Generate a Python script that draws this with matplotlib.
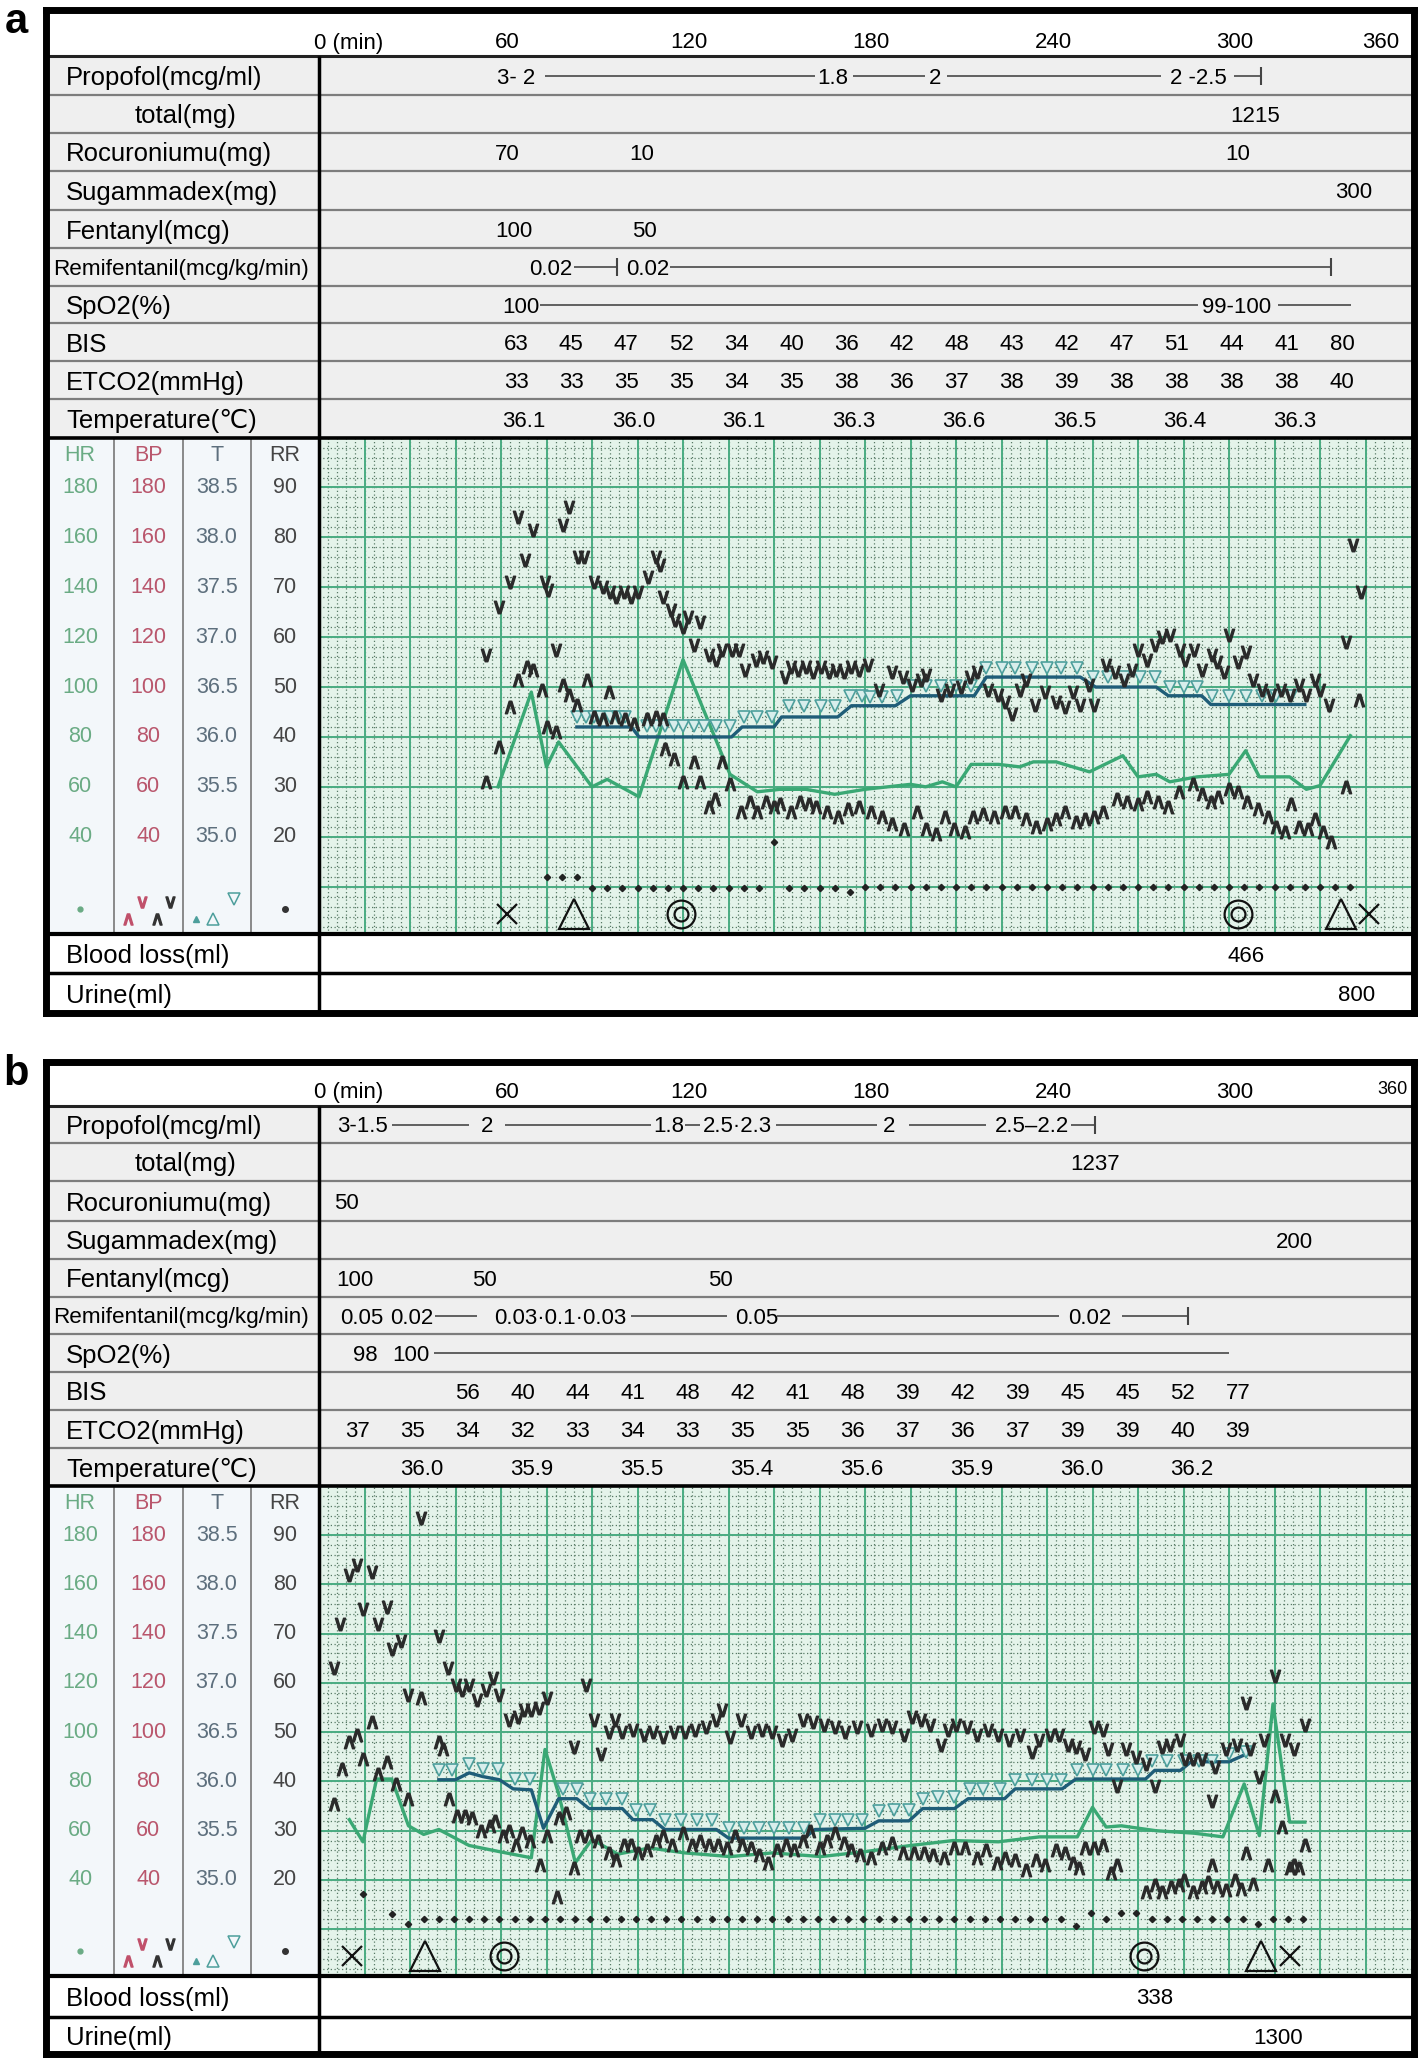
import matplotlib
matplotlib.use("Agg")
import matplotlib.pyplot as plt
from matplotlib import font_manager

W, H = 1418, 2061
installed = {f.name for f in font_manager.fontManager.ttflist}
NARROW = "Liberation Sans Narrow" if "Liberation Sans Narrow" in installed else "Liberation Sans"
plt.rcParams["font.family"] = ["Liberation Sans", "DejaVu Sans"]

# ---------------- shared labels ----------------
row_labels = ["Propofol(mcg/ml)", "total(mg)", "Rocuroniumu(mg)", "Sugammadex(mg)",
              "Fentanyl(mcg)", "Remifentanil(mcg/kg/min)", "SpO2(%)", "BIS",
              "ETCO2(mmHg)", "Temperature(℃)"]
time_ticks = [60, 120, 180, 240, 300]
hr_ticks = [180, 160, 140, 120, 100, 80, 60, 40]
temp_ticks = [38.5, 38.0, 37.5, 37.0, 36.5, 36.0, 35.5, 35.0]
rr_ticks = [90, 80, 70, 60, 50, 40, 30, 20]

# ---------------- panel a : table ----------------
propofol_a = [("3- 2", 65), ("1.8", 169.5), ("2", 203), ("2 -2.5", 290)]
propofol_a_lines = [(74.5, 163.4), (176, 199.7), (207, 277.5), (301.8, 310.4)]
propofol_a_stops = [310.4]
total_a = [("1215", 308.5)]
rocuronium_a = [("70", 62), ("10", 106.3), ("10", 303)]
sugammadex_a = [("300", 341)]
fentanyl_a = [("100", 64.4), ("50", 107.2)]
remi_a = [("0.02", 76.5), ("0.02", 108.3)]
remi_a_lines = [(84, 98.4), (115.7, 333.5)]
remi_a_stops = [98.4, 333.5]
spo2_a = [("100", 66.7), ("99-100", 302.5)]
spo2_a_lines = [(72.8, 289.7), (316, 340.3)]
bis_a = [63, 45, 47, 52, 34, 40, 36, 42, 48, 43, 42, 47, 51, 44, 41, 80]
etco2_a = [33, 33, 35, 35, 34, 35, 38, 36, 37, 38, 39, 38, 38, 38, 38, 40]
temp_a = ["36.1", "36.0", "36.1", "36.3", "36.6", "36.5", "36.4", "36.3"]
blood_a = [("466", 305.6)]
urine_a = [("800", 342)]

# ---------------- panel a : chart ----------------
sbp_a = [(55, 113), (59.5, 132), (63, 142), (65.5, 168), (68, 151), (70.5, 163), (74.5, 142),
         (75.5, 139), (78, 115), (80.5, 165), (82.5, 172), (85.5, 152), (87.5, 152), (90.5, 142),
         (93.5, 140), (96, 138), (98, 136), (100.5, 138), (103, 136), (105, 138), (108.5, 144),
         (111, 152), (112.5, 149), (113.5, 136), (116, 131), (117.5, 127), (120, 124), (121.5, 128),
         (123.5, 117), (125.5, 126), (128.5, 113), (131, 111), (133, 115), (136, 115), (138.5, 115),
         (140.5, 107), (144, 111), (146.5, 112), (149.5, 110), (153.5, 104), (155.5, 108), (158, 107),
         (160.5, 108), (163, 106), (165.5, 108), (168, 106), (170.5, 107), (173, 106), (175.5, 108),
         (178, 107), (181, 109), (184.5, 99), (189, 106), (192.5, 104), (195.5, 101), (198.5, 103),
         (200, 105), (205, 97), (208, 99), (211.5, 100), (214.5, 104), (217, 106), (220.5, 99),
         (224, 97), (226, 94), (228.5, 89), (231, 99), (233, 103), (236, 93), (239.5, 98), (243, 94),
         (246, 92), (248.5, 98), (251, 93), (254, 101), (255.5, 93), (259.5, 109), (262.5, 106),
         (265.5, 103), (268, 107), (270, 115), (273, 111), (275.5, 117), (278, 120), (280.5, 121),
         (284, 115), (285.5, 111), (288.5, 115), (291, 107), (294.5, 113), (296, 110), (298.5, 106),
         (300, 121), (303, 110), (305.5, 114), (308, 103), (311, 99), (314, 97), (317, 99), (320, 97),
         (323, 101), (325.5, 97), (328.5, 103), (330, 99), (333, 93), (338.5, 118), (341, 157),
         (343.5, 138)]
dbp_a = [(55, 62), (59.5, 76), (63, 92), (65.5, 103), (68.5, 108), (70.5, 107), (73.5, 99), (75, 84),
         (78, 82), (80.5, 101), (82.5, 97), (85, 93), (88.5, 103), (90.5, 88), (93.5, 87), (95.5, 98),
         (97.5, 88), (101, 87), (104, 85), (108, 87), (111, 88), (113.5, 87), (114, 75), (117, 71),
         (120, 62), (123.5, 70), (125.5, 62), (128.5, 52), (130.5, 55), (133, 70), (135.5, 61),
         (139, 50), (142, 54), (144.5, 50), (147.5, 54), (150, 52), (152, 53), (155.5, 50),
         (158.5, 54), (161.5, 53), (164, 52), (167.5, 50), (171, 48), (174.5, 51), (178, 52),
         (182, 50), (185.5, 48), (189, 45), (193, 43), (197, 50), (200, 43), (203.5, 41),
         (206.5, 48), (209.5, 43), (213, 42), (215.5, 48), (219, 49), (222.5, 48), (226, 50),
         (229.5, 50), (233, 47), (236.5, 44), (240, 45), (243, 47), (246, 50), (249.5, 46),
         (252.5, 47), (255.5, 48), (258.5, 50), (263, 55), (266.5, 54), (270, 53), (273, 56),
         (276.5, 54), (280, 52), (283.5, 58), (288, 61), (291, 57), (294, 54), (296.5, 56),
         (300, 59), (303, 58), (306, 54), (309.5, 51), (313, 48), (315.5, 44), (318.5, 42),
         (320.5, 53), (323, 44), (326, 43), (328.5, 47), (331, 42), (333.5, 38), (338.5, 60),
         (343, 95)]
hr_a = [(59, 60), (70, 98), (75, 68), (79, 78), (90, 60), (95, 63), (105.5, 56), (120, 111),
        (135.5, 65), (144.5, 58), (152, 59), (160.5, 59), (170, 57), (180, 59), (195, 61),
        (200, 60), (205.5, 62), (210, 60), (215, 69), (224, 69), (231, 68), (235.5, 70), (243, 70),
        (254, 66), (265, 72.5), (270, 64), (276, 65), (280.5, 62), (289.5, 64), (300, 65),
        (305.5, 74.5), (310, 64), (320, 64), (325.5, 59), (330, 60.5), (340, 80.5)]
tline_a = [(85, 84), (103, 84), (105.5, 80), (136, 80), (139.5, 84), (150, 84), (152.5, 88),
           (171, 88), (175.5, 92.5), (190, 92.5), (195, 96.5), (216, 96.5), (220, 104), (251, 104),
           (256, 100), (276, 100), (280, 96.5), (291, 96.5), (294, 93), (325, 93)]
tmark_a = [(85, 88), (88, 88), (90.5, 88), (93, 88), (96, 88), (98.5, 88), (101, 88), (108, 84.5),
           (111, 84.5), (114, 84.5), (117, 84.5), (120, 84.5), (123.5, 84.5), (127, 84.5),
           (131, 84.5), (135.5, 84.5), (140, 88), (144.5, 88), (149.5, 88), (155, 92.5), (160, 92.5),
           (165.5, 92.5), (170, 92.5), (175, 96.5), (179, 96.5), (181.5, 96), (185.5, 96),
           (190.5, 96.5), (195.5, 100.5), (200, 100.5), (205, 100.5), (210, 100.5), (215, 100.5),
           (220, 107.5), (225, 107.5), (229.5, 107.5), (235, 107.5), (240, 107.5), (244.5, 107.5),
           (250, 107.5), (255, 104), (260, 104), (265.5, 104), (270.5, 104), (275.5, 104),
           (280.5, 100), (285, 100), (289.5, 100), (294.5, 96.5), (300, 96.5), (305.5, 96.5),
           (311, 96.5), (315.5, 96.5), (320.5, 96.5)]
rr_a = [(75, 24), (80, 24), (85, 24), (90, 19.5), (95, 19.5), (100, 19.5), (105, 19.5), (110, 19.5),
        (115, 19.5), (120, 19.5), (125, 19.5), (130, 19.5), (135, 19.5), (140, 19.5), (145, 19.5),
        (150, 38), (155, 19.5), (160, 19.5), (165, 19.5), (170, 19.5), (175, 18), (180, 20),
        (185, 20), (190, 20), (195, 20), (200, 20), (205, 20), (210, 20), (215, 20), (220, 20),
        (225, 20), (230, 20), (235, 20), (240, 20), (245, 20), (250, 20), (255, 20), (260, 20),
        (265, 20), (270, 20), (275, 20), (280, 20), (285, 20), (290, 20), (295, 20), (300, 20),
        (305, 20), (310, 20), (315, 20), (320, 20), (325, 20), (330, 20), (335, 20), (340, 20)]
events_a = {"x": [62, 346], "tri": [84, 337], "circ": [119.5, 303]}

# ---------------- panel b : table ----------------
propofol_b = [("3-1.5", 14.4), ("2", 55.3), ("1.8", 115.4), ("2.5·2.3", 138), ("2", 188),
              ("2.5–2.2", 235)]
propofol_b_lines = [(24, 49.5), (61.3, 109.5), (120.5, 125.5), (150.5, 184), (194.4, 220),
                    (248, 255.7)]
propofol_b_stops = [255.7]
total_b = [("1237", 255.8)]
rocuronium_b = [("50", 9.1)]
sugammadex_b = [("200", 321.6)]
fentanyl_b = [("100", 11.7), ("50", 54.5), ("50", 132.4)]
remi_b = [("0.05", 14), ("0.02", 30.7), ("0.03·0.1·0.03", 79.4), ("0.05", 144.3), ("0.02", 254)]
remi_b_lines = [(38.3, 52.2), (103, 134.6), (151, 244), (264.6, 286.6)]
remi_b_stops = [286.6]
spo2_b = [("98", 15.3), ("100", 30.4)]
spo2_b_lines = [(37.8, 300)]
bis_b = [None, None, 56, 40, 44, 41, 48, 42, 41, 48, 39, 42, 39, 45, 45, 52, 77]
etco2_b = [37, 35, 34, 32, 33, 34, 33, 35, 35, 36, 37, 36, 37, 39, 39, 40, 39]
temp_b = ["36.0", "35.9", "35.5", "35.4", "35.6", "35.9", "36.0", "36.2"]
blood_b = [("338", 275.4)]
urine_b = [("1300", 316.3)]

# ---------------- panel b : chart ----------------
sbp_b = [(5, 126), (7, 144), (10, 164), (12.5, 168), (14.5, 150), (17.5, 165), (19.5, 144),
         (22.5, 151), (24, 134), (27, 137), (29.5, 115), (33.5, 187), (39.5, 139), (42.5, 126),
         (45, 119), (47, 117), (49.5, 119), (52, 113), (55, 117), (57.5, 122), (59.5, 115),
         (62.5, 105), (65.5, 106), (67.5, 109), (70, 109), (72.5, 110), (75, 114), (84, 94),
         (88, 119), (90.5, 105), (93, 91), (95.5, 100), (97.5, 105), (100, 100), (103.5, 101),
         (107, 99), (110, 100), (113.5, 98), (117, 100), (120.5, 100), (124, 101), (127.5, 102),
         (131, 105), (133, 109), (135.5, 98), (139, 105), (142.5, 100), (146, 101), (149.5, 100),
         (152.5, 97), (156, 99), (159.5, 105), (163, 104), (166.5, 103), (170, 102), (173.5, 100),
         (177.5, 102), (182, 101), (185.5, 103), (189, 102), (193, 99), (195.5, 106), (198.5, 105),
         (201.5, 103), (205, 95), (207.5, 101), (210, 103), (213.5, 102), (217, 99), (220.5, 101),
         (224, 99), (227.5, 97), (231, 99), (235, 92), (237.5, 97), (241, 99), (244, 99), (247, 95),
         (249.5, 94), (252.5, 91), (255.5, 102), (258.5, 101), (260, 93), (263, 78), (266, 93),
         (269.5, 90), (272.5, 87), (275.5, 78), (278, 94), (280.5, 95), (284, 97), (285.5, 89),
         (288, 89), (291, 89), (294.5, 72), (295.5, 86), (299, 93), (302.5, 95), (305.5, 112),
         (307, 93), (310, 82), (311.5, 97), (315, 123), (318.5, 97), (321.5, 93), (325, 103)]
dbp_b = [(5, 71), (7.5, 85), (10, 96), (12.5, 99), (14.5, 89), (17.5, 104), (19.5, 83), (22.5, 88),
         (25.5, 79), (29.5, 73), (33.5, 114), (39.5, 96), (41, 93), (43, 73), (45.5, 66), (48, 66),
         (50.5, 65), (53.5, 60), (56.5, 62), (58, 64), (60.5, 58), (62.5, 60), (65, 54), (67, 59),
         (69.5, 56), (73, 46), (75, 58), (78.5, 33), (79, 65), (81.5, 67), (84, 45), (86, 58),
         (89, 58), (92, 56), (95.5, 51), (98, 48), (100.5, 54), (103, 54), (105, 51), (108, 52),
         (111, 56), (113.5, 58), (116.5, 54), (120, 59), (123, 54), (125.5, 56), (128.5, 54),
         (131.5, 54), (134.5, 53), (137, 58), (139.5, 54), (142.5, 53), (145, 50), (148, 47),
         (151, 52), (154, 54), (156.5, 52), (159.5, 56), (162, 60), (165, 53), (167.5, 56),
         (170, 59), (173, 55), (175.5, 52), (178.5, 50), (182, 49), (185.5, 53), (189, 55),
         (192.5, 51), (196, 51), (199.5, 51), (202.5, 50), (206, 49), (209.5, 53), (213, 53),
         (217, 49), (220, 52), (223.5, 47), (226, 49), (229.5, 48), (233, 44), (236.5, 48),
         (239.5, 46), (243, 52), (246, 51), (248.5, 47), (250.5, 45), (252.5, 53), (255.5, 53),
         (258.5, 54), (261, 43), (263, 46), (272.5, 35), (275.5, 38), (278, 35), (281, 37),
         (283.5, 38), (285, 40), (288, 35), (291, 37), (293, 39), (294.5, 46), (296, 37), (299, 36),
         (302, 40), (304, 36.5), (305.5, 51), (308, 38.5), (313, 46), (315, 74), (317.5, 61.5),
         (320, 45), (321.5, 46), (323, 45), (325, 54)]
hr_b = [(10, 64.5), (14.5, 55.5), (19, 81), (24, 81), (29.5, 62), (34.5, 58.5), (39.5, 60.5),
        (49.5, 54), (59.5, 51.5), (70, 49), (74.5, 93), (79, 75), (84.5, 47), (90, 56.5),
        (98.5, 50.5), (109, 53), (120.5, 51), (135.5, 49.5), (149.5, 51), (165.5, 49.5),
        (180, 51.5), (195, 54), (209, 56), (224, 55.5), (237.5, 57.5), (250, 57.5), (255, 69.5),
        (259.5, 61.5), (264.5, 62), (276, 60), (288.5, 59), (298, 57.5), (305, 79), (310, 58),
        (314.5, 111.5), (320, 63.5), (325, 63.5)]
tline_b = [(39.5, 80.7), (45, 80.7), (49.5, 83.5), (54, 82), (59.5, 80.7), (64, 77), (70, 76.6),
           (74, 61), (79, 73), (85, 73), (89, 69), (100, 69), (103.5, 64.5), (110, 64.5),
           (114, 60.5), (131, 60.5), (135, 57), (160, 57), (163.5, 60.5), (180, 61), (184.5, 64),
           (194.5, 64), (199, 69), (209.5, 69), (214, 73), (226, 73), (229.5, 77), (245, 77),
           (249.5, 81), (272.5, 81), (275.5, 84.5), (284, 84.5), (287.5, 88), (300, 88),
           (305.5, 91)]
tmark_b = [(39.5, 84.5), (44, 84.5), (49.5, 87), (54, 85), (59, 85), (64.5, 81), (69.5, 81),
           (80.5, 77), (85, 77), (89.5, 73), (94.5, 73), (100, 73), (104.5, 68.5), (109, 68.5),
           (114, 64.5), (119.5, 64.5), (124.5, 64.5), (129.5, 64.5), (135, 61), (140, 61),
           (145, 61), (150, 61), (155, 61), (160, 61), (165, 64.5), (170, 64.5), (174.5, 64.5),
           (179, 64.5), (184.5, 68), (189.5, 68.5), (194.5, 68.5), (199, 73), (204, 73.5),
           (209.5, 73.5), (214.5, 77), (219, 77), (224.5, 77), (229.5, 80.5), (235, 80.5),
           (240, 80.5), (244.5, 80.5), (250, 84.5), (255, 84.5), (259.5, 84.5), (265, 84.5),
           (270, 84.5), (274.5, 88.5), (279.5, 88.5), (285, 88.5), (290, 88.5), (294.5, 88.5),
           (300, 91), (305.5, 92)]
rr_b = [(14.5, 34.5), (24, 26), (29.5, 22), (34.5, 24), (39.5, 24), (44.5, 24), (49.5, 24),
        (54.5, 24), (59.5, 24), (64.5, 24), (69.5, 24), (74.5, 24), (79.5, 24), (84.5, 24),
        (89.5, 24), (94.5, 24), (99.5, 24), (104.5, 24), (109.5, 24), (114.5, 24), (119.5, 24),
        (124.5, 24), (129.5, 24), (134.5, 24), (139.5, 24), (144.5, 24), (149.5, 24), (154.5, 24),
        (159.5, 24), (164.5, 24), (169.5, 24), (174.5, 24), (179.5, 24), (184.5, 24), (189.5, 24),
        (194.5, 24), (199.5, 24), (204.5, 24), (209.5, 24), (214.5, 24), (219.5, 24), (224.5, 24),
        (229.5, 24), (234.5, 24), (239.5, 24), (244.5, 24), (249.5, 21.5), (254.5, 26.5),
        (259.5, 24), (264.5, 26.5), (269.5, 26.5), (274.5, 24), (279.5, 24), (284.5, 24),
        (289.5, 24), (294.5, 24), (299.5, 24), (304.5, 24), (309.5, 22), (314.5, 24), (319.5, 24),
        (324.5, 24)]
events_b = {"x": [11, 320], "tri": [35, 310.5], "circ": [61, 272]}

# ---------------- layout / style ----------------
L, R, DIV, XR = 46, 1414, 319, 1411
TAB_BG, ROWLINE = "#efefef", "#7d7d7d"
CHART_BG, LEG_BG = "#e4f3ea", "#f3f7fa"
GRID, DOT = "#4aac82", "#587a66"
HR_C, TL_C, TM_C, BP_C = "#3aa874", "#1f5d78", "#4d9f9c", "#2a2a2a"
LAB_FS, VAL_FS, LEG_FS = 18.5, 16, 15.5
EV_Y = 9

fig = plt.figure(figsize=(W / 100, H / 100), dpi=100)
fig.patch.set_facecolor("white")


def px_axes(x0, y0, x1, y1, z):
    ax = fig.add_axes([x0 / W, 1 - y1 / H, (x1 - x0) / W, (y1 - y0) / H])
    ax.set_zorder(z)
    ax.set_xticks([])
    ax.set_yticks([])
    for s in ax.spines.values():
        s.set_visible(False)
    return ax


def unzip(pairs):
    return [p[0] for p in pairs], [p[1] for p in pairs]


def put_row(ax, yc, items, lines=(), stops=()):
    for s, t in items:
        ax.text(t, yc, s, ha="center", va="center_baseline", fontsize=VAL_FS)
    for t0, t1 in lines:
        ax.hlines(yc, t0, t1, color="#555555", lw=1.3)
    for t in stops:
        ax.vlines(t, yc - 9, yc + 9, color="#444444", lw=1.5)


def draw_panel(letter, g, rows, cols, lower, ser, small360):
    top, e, cb, sep, bot = g["top"], g["edges"], g["cbot"], g["sep"], g["bot"]
    ct = e[-1]

    bg = px_axes(L, top, R, bot, 0)
    bg.set_xlim(L, R)
    bg.set_ylim(bot, top)
    bg.axhspan(top, e[0], color="white")
    bg.axhspan(e[0], ct, color=TAB_BG)
    bg.axhspan(cb, bot, color="white")
    for lab, y0, y1 in zip(row_labels, e[:-1], e[1:]):
        x = 66
        fs = LAB_FS
        if lab.startswith("total"):
            x = 135
        if lab.startswith("Remi"):
            x, fs = 53, 16.2
        bg.text(x, (y0 + y1) / 2, lab, ha="left", va="center_baseline", fontsize=fs)
    bg.text(66, (cb + sep) / 2, "Blood loss(ml)", ha="left", va="center_baseline", fontsize=LAB_FS)
    bg.text(66, (sep + bot) / 2, "Urine(ml)", ha="left", va="center_baseline", fontsize=LAB_FS)

    # table values (x in minutes)
    tab = px_axes(DIV, top, XR, ct, 3)
    tab.set_facecolor("none")
    tab.set_xlim(0, 360)
    tab.set_ylim(ct, top)
    hy = e[0] - 16
    tab.text(-1.5, hy, "0 (min)", ha="left", va="center_baseline", fontsize=VAL_FS)
    for t in time_ticks:
        tab.text(t + 2, hy, str(t), ha="center", va="center_baseline", fontsize=VAL_FS)
    if small360:
        tab.text(359, hy - 2, "360", ha="right", va="center_baseline", fontsize=13)
    else:
        tab.text(356, hy, "360", ha="right", va="center_baseline", fontsize=VAL_FS)
    centers = [(a + b) / 2 for a, b in zip(e[:-1], e[1:])]
    for yc, r in zip(centers[:7], rows):
        put_row(tab, yc, *r)
    c0, step, toff = cols["c0"], cols["step"], cols["toff"]
    for i, v in enumerate(cols["bis"]):
        if v is not None:
            tab.text(c0 + i * step, centers[7], str(v), ha="center", va="center_baseline", fontsize=VAL_FS)
    for i, v in enumerate(cols["etco2"]):
        tab.text(c0 + i * step, centers[8], str(v), ha="center", va="center_baseline", fontsize=VAL_FS)
    for i, v in enumerate(cols["temp"]):
        tab.text(toff + 2 * i * step, centers[9], v, ha="center", va="center_baseline", fontsize=VAL_FS)

    # lower rows
    bt = px_axes(DIV, cb, XR, bot, 3)
    bt.set_facecolor("none")
    bt.set_xlim(0, 360)
    bt.set_ylim(bot, cb)
    put_row(bt, (cb + sep) / 2, lower[0])
    put_row(bt, (sep + bot) / 2, lower[1])

    # legend scale columns
    lg = px_axes(L, ct, DIV, cb, 2)
    lg.set_facecolor(LEG_BG)
    lg.set_xlim(0, 4)
    lg.set_ylim(1, 200)
    for x in (1, 2, 3):
        lg.axvline(x, color="#777777", lw=1.2)
    fam = [NARROW, "DejaVu Sans"]
    heads = [("HR", "#6aab84"), ("BP", "#b9566c"), ("T", "#5d6f7d"), ("RR", "#454545")]
    for i, (hd, col) in enumerate(heads):
        lg.text(i + 0.5, 193, hd, ha="center", va="center", fontsize=LEG_FS, color=col, family=fam)
    for v in hr_ticks:
        lg.text(0.5, v, str(v), ha="center", va="center", fontsize=LEG_FS, color="#6aab84", family=fam)
        lg.text(1.5, v, str(v), ha="center", va="center", fontsize=LEG_FS, color="#b9566c", family=fam)
    for tv in temp_ticks:
        lg.text(2.5, 40 + (tv - 35) * 40, f"{tv:.1f}", ha="center", va="center", fontsize=LEG_FS,
                color="#5d6f7d", family=fam)
    for rv in rr_ticks:
        lg.text(3.5, 2 * rv, str(rv), ha="center", va="center", fontsize=LEG_FS, color="#454545",
                family=fam)
    lg.plot([0.5], [11], "o", ms=3.5, color="#6aab84")
    lg.plot([1.2], [7], ls="none", marker=r"$\wedge$", ms=8, color="#c0506a")
    lg.plot([1.4], [14], ls="none", marker=r"$\vee$", ms=8, color="#c0506a")
    lg.plot([1.62], [7], ls="none", marker=r"$\wedge$", ms=8, color="#333333")
    lg.plot([1.82], [14], ls="none", marker=r"$\vee$", ms=8, color="#333333")
    lg.plot([2.2], [7], "^", ms=5, color=TM_C)
    lg.plot([2.45], [7], "^", ms=9, mfc="none", mec=TM_C, mew=1.1)
    lg.plot([2.75], [15], "v", ms=9, mfc="none", mec=TM_C, mew=1.1)
    lg.plot([3.5], [11], "o", ms=4, color="#333333")

    # chart
    ch = px_axes(DIV, ct, XR, cb, 2)
    ch.set_facecolor(CHART_BG)
    ch.set_xlim(0, 360)
    ch.set_ylim(1, 200)
    for t in range(3, 360, 3):
        ch.axvline(t, color=DOT, lw=0.9, ls=(0, (1, 2)), zorder=1)
    for v in range(4, 200, 4):
        ch.axhline(v, color=DOT, lw=0.9, ls=(0, (1, 2)), zorder=1)
    for t in range(15, 360, 15):
        ch.axvline(t, color=GRID, lw=1.4, zorder=2)
    for v in range(20, 200, 20):
        ch.axhline(v, color=GRID, lw=1.4, zorder=2)

    ch.plot(*unzip(ser["hr"]), color=HR_C, lw=2.4, zorder=4)
    ch.plot(*unzip(ser["tline"]), color=TL_C, lw=2.4, zorder=4)
    ch.plot(*unzip(ser["tmark"]), ls="none", marker="v", ms=8.5, mfc="#d8eeec", mec=TM_C,
            mew=1.2, zorder=5)
    ch.plot(*unzip(ser["sbp"]), ls="none", marker=r"$\vee$", ms=9, color=BP_C, zorder=6)
    ch.plot(*unzip(ser["dbp"]), ls="none", marker=r"$\wedge$", ms=9, color=BP_C, zorder=6)
    ch.plot(*unzip(ser["rr"]), ls="none", marker="D", ms=3.2, color="#222222", zorder=6)
    ev = ser["events"]
    ch.plot(ev["x"], [EV_Y] * len(ev["x"]), ls="none", marker="x", ms=15, mew=1.6,
            color="#111111", zorder=6)
    ch.plot(ev["tri"], [EV_Y] * len(ev["tri"]), ls="none", marker="^", ms=21, mfc="none",
            mec="#111111", mew=1.6, zorder=6)
    ch.plot(ev["circ"], [EV_Y] * len(ev["circ"]), ls="none", marker="o", ms=20, mfc="none",
            mec="#111111", mew=1.6, zorder=6)
    ch.plot(ev["circ"], [EV_Y] * len(ev["circ"]), ls="none", marker="o", ms=10, mfc="none",
            mec="#111111", mew=1.6, zorder=6)

    # rules and frame
    ov = px_axes(L, top, R, bot, 6)
    ov.set_facecolor("none")
    ov.set_xlim(L, R)
    ov.set_ylim(bot, top)
    for y in e[:-1][1:]:
        ov.hlines(y, L, R, color=ROWLINE, lw=1.6)
    ov.hlines(e[0], L, R, color="#222222", lw=2.2)
    ov.hlines(ct, L, R, color="black", lw=2.6)
    ov.hlines(cb, L, R, color="black", lw=3)
    ov.hlines(sep, L, R, color="black", lw=2.5)
    ov.vlines(DIV, e[0], bot, color="black", lw=2.5)
    for s in ov.spines.values():
        s.set_visible(True)
        s.set_linewidth(5)
        s.set_color("black")

    fig.text(16 / W, 1 - (top + 12) / H, letter, ha="center", va="center",
             fontsize=30, fontweight="bold")


geom_a = dict(top=10, edges=[56.5, 94.6, 132.7, 170.8, 210, 248.3, 286.5, 323, 361, 399.5, 437.6],
              cbot=934, sep=973, bot=1013)
geom_b = dict(top=1062, edges=[1106, 1143, 1181, 1221, 1259, 1297, 1334, 1372, 1410, 1448, 1486],
              cbot=1976, sep=2017, bot=2054)

rows_a = [(propofol_a, propofol_a_lines, propofol_a_stops), (total_a,), (rocuronium_a,),
          (sugammadex_a,), (fentanyl_a,), (remi_a, remi_a_lines, remi_a_stops),
          (spo2_a, spo2_a_lines)]
rows_b = [(propofol_b, propofol_b_lines, propofol_b_stops), (total_b,), (rocuronium_b,),
          (sugammadex_b,), (fentanyl_b,), (remi_b, remi_b_lines, remi_b_stops),
          (spo2_b, spo2_b_lines)]
cols_a = dict(bis=bis_a, etco2=etco2_a, temp=temp_a, c0=65, step=18.15, toff=67.5)
cols_b = dict(bis=bis_b, etco2=etco2_b, temp=temp_b, c0=12.65, step=18.14, toff=33.8)
ser_a = dict(hr=hr_a, tline=tline_a, tmark=tmark_a, sbp=sbp_a, dbp=dbp_a, rr=rr_a, events=events_a)
ser_b = dict(hr=hr_b, tline=tline_b, tmark=tmark_b, sbp=sbp_b, dbp=dbp_b, rr=rr_b, events=events_b)

draw_panel("a", geom_a, rows_a, cols_a, (blood_a, urine_a), ser_a, False)
draw_panel("b", geom_b, rows_b, cols_b, (blood_b, urine_b), ser_b, True)

fig.savefig("out.png", dpi=100)
